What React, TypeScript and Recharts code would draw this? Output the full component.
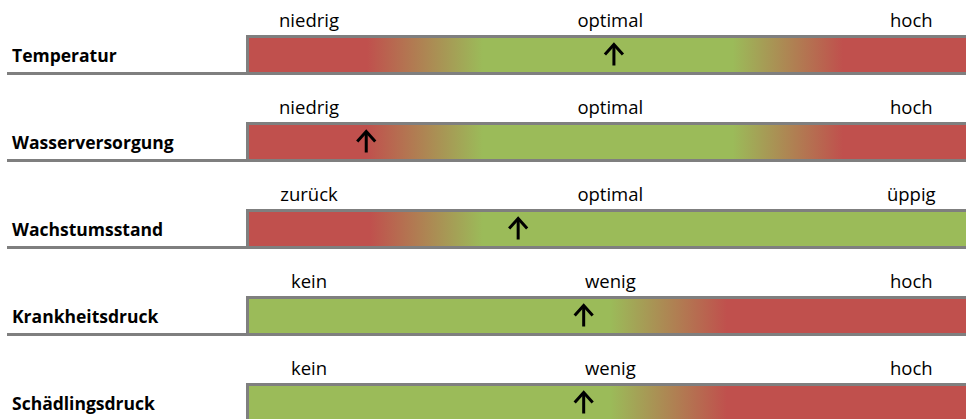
import { ComposedChart, Bar, Line, XAxis, YAxis } from 'recharts'

// rating rows, top to bottom
const rows = ['Temperatur', 'Wasserversorgung', 'Wachstumsstand', 'Krankheitsdruck', 'Schädlingsdruck']
const scaleLabels = [
  ['niedrig', 'optimal', 'hoch'],
  ['niedrig', 'optimal', 'hoch'],
  ['zurück', 'optimal', 'üppig'],
  ['kein', 'wenig', 'hoch'],
  ['kein', 'wenig', 'hoch'],
]
// where the arrow sits on the 0..100 scale
const indicator = [51.1, 16.7, 37.8, 46.9, 46.9]
// colour zones along the scale: [offset, 'r' | 'g']
const zones: [number, string][][] = [
  [[0, 'r'], [16.8, 'r'], [32.9, 'g'], [67.6, 'g'], [82.9, 'r'], [100, 'r']],
  [[0, 'r'], [16.8, 'r'], [32.9, 'g'], [67.6, 'g'], [82.9, 'r'], [100, 'r']],
  [[0, 'r'], [17.2, 'r'], [32.9, 'g'], [100, 'g']],
  [[0, 'g'], [50.6, 'g'], [66.8, 'r'], [100, 'r']],
  [[0, 'g'], [50.6, 'g'], [66.8, 'r'], [100, 'r']],
]
const labelAt = [8.75, 50.6, 92.4]

const RED = '#C0504D'
const GREEN = '#9BBB59'
const GRAY = '#7F7F7F'
const FONT = '"Open Sans", sans-serif'

const data = rows.map((name, i) => ({ name, full: 100, pos: indicator[i], idx: i }))

function RowTick({ y, payload }: any) {
  return (
    <g>
      <text x={12} y={y + 7} fontSize={17.5} fontWeight={700} fill="#000" fontFamily={FONT}>
        {payload.value}
      </text>
      <line x1={7} x2={246} y1={y + 19} y2={y + 19} stroke={GRAY} strokeWidth={3} />
    </g>
  )
}

function ScaleBar(props: any) {
  const { x, y, width, height, payload } = props
  const i = payload.idx
  return (
    <g>
      <rect x={x} y={y} width={width} height={height} fill={`url(#zone-${i})`} />
      <line x1={x} x2={x + width} y1={y + 1.5} y2={y + 1.5} stroke={GRAY} strokeWidth={3} />
      <line x1={x} x2={x + width} y1={y + height - 1.5} y2={y + height - 1.5} stroke={GRAY} strokeWidth={3} />
      <line x1={x + 1.5} x2={x + 1.5} y1={y} y2={y + height} stroke={GRAY} strokeWidth={3} />
      {scaleLabels[i].map((t, k) => (
        <text
          key={t + k}
          x={x + (width * labelAt[k]) / 100}
          y={y - 8}
          textAnchor="middle"
          fontSize={18.5}
          fill="#000"
          fontFamily={FONT}
        >
          {t}
        </text>
      ))}
    </g>
  )
}

function Arrow(props: any) {
  const { cx, cy, index } = props
  return (
    <g key={`arrow-${index}`}>
      <line x1={cx} x2={cx} y1={cy - 9} y2={cy + 11} stroke="#000" strokeWidth={3} />
      <polyline
        points={`${cx - 9},${cy} ${cx},${cy - 10} ${cx + 9},${cy}`}
        fill="none"
        stroke="#000"
        strokeWidth={3}
      />
    </g>
  )
}

export default function App() {
  return (
    <div style={{ position: 'absolute', left: 0, top: 0, width: 966, height: 419, overflow: 'hidden', background: '#fff' }}>
      <ComposedChart
        width={966}
        height={446}
        data={data}
        layout="vertical"
        margin={{ top: 11, right: 0, bottom: 0, left: 0 }}
      >
        <defs>
          {zones.map((z, i) => (
            <linearGradient key={i} id={`zone-${i}`} x1="0" y1="0" x2="1" y2="0">
              {z.map(([off, c], k) => (
                <stop key={k} offset={`${off}%`} stopColor={c === 'r' ? RED : GREEN} />
              ))}
            </linearGradient>
          ))}
        </defs>
        <XAxis type="number" domain={[0, 100]} hide />
        <YAxis
          type="category"
          dataKey="name"
          width={246}
          axisLine={false}
          tickLine={false}
          tick={<RowTick />}
        />
        <Bar dataKey="full" barSize={40} shape={<ScaleBar />} isAnimationActive={false} />
        <Line dataKey="pos" stroke="none" dot={Arrow} activeDot={false} isAnimationActive={false} />
      </ComposedChart>
    </div>
  )
}
